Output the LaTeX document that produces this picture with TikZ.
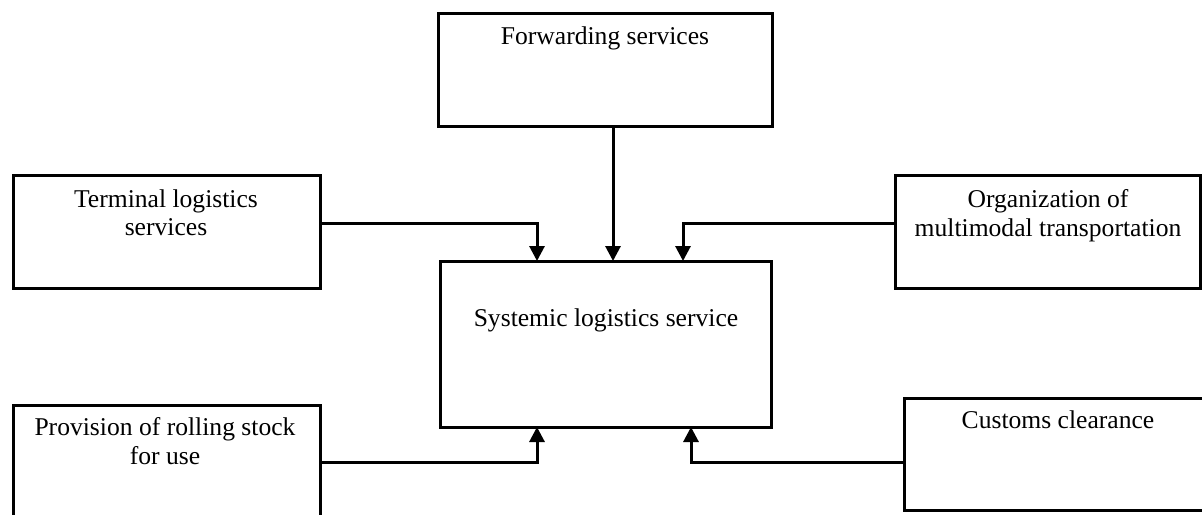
\documentclass[tikz,border=0pt]{standalone}
\usepackage{fontspec}
\setmainfont{Liberation Serif}
\usetikzlibrary{arrows.meta}
\begin{document}
\begin{tikzpicture}[x=1pt,y=-1pt,
  box/.style={draw=black, line width=3pt, rectangle, inner sep=0pt, outer sep=0pt, fill=white},
  txt/.style={anchor=north, inner sep=0pt, align=center, font=\fontsize{25.6}{28.5}\selectfont},
  conn/.style={line width=3pt, -{Triangle[length=15pt,width=15pt]}}]
\useasboundingbox (0,0) rectangle (1202,514);
\clip (0,0) rectangle (1202,514);
\fill[white] (0,0) rectangle (1202,514);
% boxes
\node[box, minimum width=334pt, minimum height=113pt] (fwd) at (605,69.5) {};
\node[box, minimum width=307pt, minimum height=113pt] (term) at (166.5,231.5) {};
\node[box, minimum width=305pt, minimum height=113pt] (org) at (1047.5,231.5) {};
\node[box, minimum width=331pt, minimum height=166pt] (ctr) at (605.5,344) {};
\node[box, minimum width=307pt, minimum height=134pt] (prov) at (166.5,472) {};
\node[box, minimum width=308pt, minimum height=112pt] (cust) at (1058,454) {};
% texts
\node[txt] (fwdt) at (605,26.5) {Forwarding services};
\node[txt] (termt) at (166,189.5) {Terminal logistics\\services};
\node[txt] (orgt) at (1048,189.5) {Organization of\\multimodal transportation};
\node[txt] (ctrt) at (606,308.5) {Systemic logistics service};
\node[txt] (provt) at (165,417.5) {Provision of rolling stock\\for use};
\node[txt] (custt) at (1058,410.5) {Customs clearance};
% helper coordinates
\coordinate (xa) at (537,0);
\coordinate (xb) at (613,0);
\coordinate (xc) at (683,0);
\coordinate (xd) at (691,0);
\coordinate (ya) at (0,223);
\coordinate (yb) at (0,462);
% connectors
\draw[conn] (fwd.south -| xb) -- (ctr.north -| xb);
\draw[conn] (term.east |- ya) -| (ctr.north -| xa);
\draw[conn] (org.west |- ya) -| (ctr.north -| xc);
\draw[conn] (prov.east |- yb) -| (ctr.south -| xa);
\draw[conn] (cust.west |- yb) -| (ctr.south -| xd);
\end{tikzpicture}
\end{document}
